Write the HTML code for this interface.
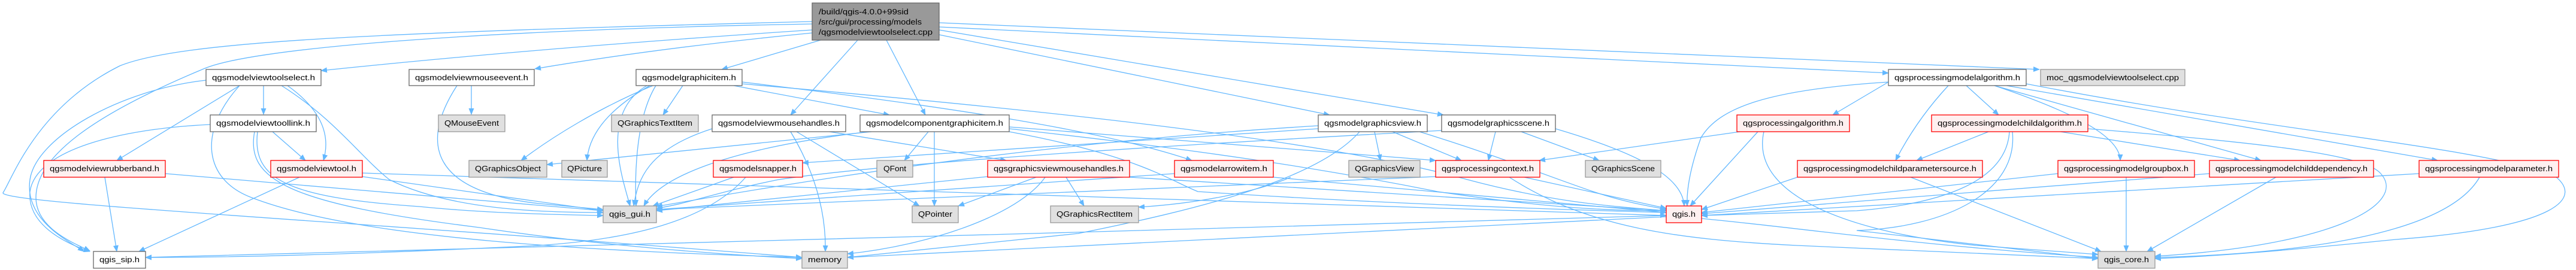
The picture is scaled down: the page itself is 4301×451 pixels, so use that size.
<!DOCTYPE html>
<html><head><meta charset="utf-8"><style>
html,body{margin:0;padding:0;background:#fff;}
svg{display:block;}
text{font-family:"Liberation Sans",sans-serif;font-size:13px;fill:#000;}
.w{fill:#fff;stroke:#666;stroke-width:1.3}
.g{fill:#e0e0e0;stroke:#999;stroke-width:1.3}
.r{fill:#fff0f0;stroke:#f00;stroke-width:1.3}
.e{fill:none;stroke:#63b8ff;stroke-width:1.3}
</style></head><body>
<svg width="4301" height="451" viewBox="0 0 4301 451" xmlns="http://www.w3.org/2000/svg">
<defs><marker id="a" markerWidth="11" markerHeight="9" refX="10" refY="4.5" orient="auto" markerUnits="userSpaceOnUse"><path d="M0,0 L11,4.5 L0,9 z" fill="#63b8ff"/></marker></defs>
<g class="e" marker-end="url(#a)">
<!-- main -->
<path d="M1356,50 Q900,80 536,118"/>
<path d="M1356,55 Q1100,80 893,115"/>
<path d="M1356,40 C800,50 420,80 340,115 C160,190 60,260 60,330 C60,380 120,405 150,419"/>
<path d="M1356,36 C600,55 300,70 200,110 C60,180 20,300 5,322 C0,340 600,370 1339,430"/>
<path d="M1370,67 L1205,116"/>
<path d="M1432,67 L1320,192"/>
<path d="M1480,67 L1545,192"/>
<path d="M1568,58 L2220,192"/>
<path d="M1568,50 L2410,192"/>
<path d="M1568,45 L3153,122"/>
<path d="M1568,38 L3405,116"/>
<!-- toolselect -->
<path d="M440,143 L440,191"/>
<path d="M400,143 L195,268"/>
<path d="M480,143 Q560,200 540,268"/>
<path d="M470,143 C560,200 600,260 650,300 C750,350 900,355 1007,355"/>
<path d="M344,134 C200,150 60,230 50,300 C40,370 120,405 140,420"/>
<path d="M400,143 C330,220 340,300 420,330 C600,400 1000,420 1339,430"/>
<!-- toollink -->
<path d="M455,220 L510,268"/>
<path d="M430,220 C420,300 480,330 700,345 C800,355 900,358 1007,360"/>
<path d="M425,220 C410,300 480,340 800,380 C1000,410 1200,425 1339,432"/>
<path d="M351,208 C200,215 60,250 50,320 C45,380 120,410 150,420"/>
<!-- rubberband -->
<path d="M175,296 L195,420"/>
<path d="M276,290 L1007,352"/>
<!-- viewtool -->
<path d="M500,296 L232,420"/>
<path d="M605,295 L1007,352"/>
<path d="M605,289 L2782,360"/>
<!-- mouseevent -->
<path d="M787,143 L787,191"/>
<path d="M763,143 C700,240 720,320 900,340 L1007,350"/>
<!-- graphicitem -->
<path d="M1140,143 L1107,192"/>
<path d="M1090,143 C1000,180 920,230 870,268"/>
<path d="M1085,143 Q985,200 980,268"/>
<path d="M1080,143 C1000,190 1040,300 1052,344"/>
<path d="M1095,143 C1060,200 1060,300 1062,344"/>
<path d="M1225,143 L1485,192"/>
<path d="M1239,137 C1600,180 1850,220 1990,268"/>
<path d="M1239,140 C1700,180 2200,230 2450,300 C2600,340 2700,345 2782,352"/>
<!-- mousehandles -->
<path d="M1189,215 C1080,250 1065,300 1058,344"/>
<path d="M1330,220 L1535,344"/>
<path d="M1320,220 Q1380,320 1378,420"/>
<path d="M1385,220 L1680,268"/>
<!-- componentgraphicitem -->
<path d="M1455,220 L913,275"/>
<path d="M1550,220 L1510,268"/>
<path d="M1560,220 L1560,344"/>
<path d="M1450,220 C1200,250 1100,300 1075,344"/>
<path d="M1685,215 C2000,250 2200,280 2400,320 C2600,350 2700,352 2782,352"/>
<path d="M1685,212 L2397,268"/>
<path d="M1685,220 C1900,260 1950,300 2000,320 C2300,340 2600,350 2782,355"/>
<!-- snapper -->
<path d="M1225,296 L1090,344"/>
<path d="M1245,296 C1180,370 1050,400 900,410 C600,425 400,430 243,430"/>
<!-- gv mousehandles -->
<path d="M1730,296 L1600,344"/>
<path d="M1780,296 L1810,344"/>
<path d="M1745,296 C1700,360 1550,410 1415,424"/>
<path d="M1649,295 L1096,352"/>
<path d="M1886,296 L2782,352"/>
<!-- arrowitem -->
<path d="M1961,290 L1096,350"/>
<path d="M2155,296 C2100,320 2000,340 1901,346"/>
<path d="M2126,296 L2782,355"/>
<!-- graphicsview -->
<path d="M2295,220 L2305,268"/>
<path d="M2325,220 L2440,268"/>
<path d="M2201,210 C1700,240 1300,310 1096,345"/>
<path d="M2370,220 C2500,260 2600,300 2660,320 C2720,340 2760,345 2782,350"/>
<path d="M2270,220 C2200,300 2000,350 1800,390 L1415,430"/>
<path d="M2201,215 L1340,272"/>
<!-- graphicsscene -->
<path d="M2497,220 L2485,268"/>
<path d="M2540,220 L2670,268"/>
<path d="M2597,215 C2750,260 2810,300 2812,344"/>
<path d="M2407,218 C2000,240 1500,270 1300,300 C1200,320 1150,340 1096,348"/>
<!-- processingcontext -->
<path d="M2545,296 L2782,348"/>
<path d="M2520,296 C2650,380 2800,400 3000,410 C3200,420 3400,428 3503,432"/>
<path d="M2397,295 L1096,350"/>
<!-- qgis.h -->
<path d="M2782,360 C2000,380 800,420 243,430"/>
<path d="M2782,362 L1415,430"/>
<path d="M2841,365 C3000,380 3200,410 3503,430"/>
<!-- processingalgorithm -->
<path d="M2905,220 L2570,268"/>
<path d="M2935,220 L2822,344"/>
<path d="M2945,220 C2920,330 3100,390 3300,410 L3503,425"/>
<!-- modelalgorithm -->
<path d="M3153,137 L3060,192"/>
<path d="M3153,137 C2950,150 2870,180 2840,230 Q2815,300 2817,344"/>
<path d="M3283,143 L3337,192"/>
<path d="M3253,143 Q3200,200 3165,268"/>
<path d="M3330,143 C3470,190 3540,230 3540,268"/>
<path d="M3330,143 L3775,268"/>
<path d="M3350,143 L4070,268"/>
<path d="M3383,140 C3800,220 4100,240 4260,290 C4320,330 4270,380 4000,400 C3800,420 3700,428 3598,432"/>
<!-- childalgorithm -->
<path d="M3320,220 L3200,268"/>
<path d="M3440,220 L3740,268"/>
<path d="M3486,215 C3800,240 3950,260 3975,290 C4020,340 3900,410 3598,428"/>
<path d="M3355,220 C3350,300 3250,340 3100,352 L2841,360"/>
<path d="M3360,220 C3370,320 3250,380 3100,385 L3503,432"/>
<!-- lower row to core/qgis -->
<path d="M3190,296 L3508,420"/>
<path d="M3001,296 L2841,350"/>
<path d="M3550,296 L3550,420"/>
<path d="M3436,290 L2841,355"/>
<path d="M3800,296 L3585,420"/>
<path d="M3689,290 L2841,357"/>
<path d="M4140,296 C4080,400 3800,425 3598,430"/>
<path d="M4039,290 L2841,360"/>
</g>
<!-- nodes -->
<rect x="1356" y="5" width="212" height="62" fill="#999" stroke="#666" stroke-width="1.3"/>
<text x="1367" y="24" textLength="150" lengthAdjust="spacingAndGlyphs">/build/qgis-4.0.0+99sid</text>
<text x="1367" y="41" textLength="172" lengthAdjust="spacingAndGlyphs">/src/gui/processing/models</text>
<text x="1367" y="58" textLength="190" lengthAdjust="spacingAndGlyphs">/qgsmodelviewtoolselect.cpp</text>
<g id="n"></g>
<rect class="w" x="344" y="116" width="192" height="27"/><text x="354" y="134" textLength="172" lengthAdjust="spacingAndGlyphs">qgsmodelviewtoolselect.h</text>
<rect class="w" x="683" y="116" width="209" height="27"/><text x="693" y="134" textLength="189" lengthAdjust="spacingAndGlyphs">qgsmodelviewmouseevent.h</text>
<rect class="w" x="1062" y="116" width="177" height="27"/><text x="1072" y="134" textLength="157" lengthAdjust="spacingAndGlyphs">qgsmodelgraphicitem.h</text>
<rect class="w" x="3153" y="116" width="230" height="27"/><text x="3163" y="134" textLength="210" lengthAdjust="spacingAndGlyphs">qgsprocessingmodelalgorithm.h</text>
<rect class="g" x="3407" y="116" width="241" height="27"/><text x="3417" y="134" textLength="221" lengthAdjust="spacingAndGlyphs">moc_qgsmodelviewtoolselect.cpp</text>

<rect class="w" x="351" y="192" width="177" height="28"/><text x="361" y="210" textLength="157" lengthAdjust="spacingAndGlyphs">qgsmodelviewtoollink.h</text>
<rect class="g" x="732" y="192" width="111" height="28"/><text x="742" y="210" textLength="91" lengthAdjust="spacingAndGlyphs">QMouseEvent</text>
<rect class="g" x="1021" y="192" width="145" height="28"/><text x="1031" y="210" textLength="125" lengthAdjust="spacingAndGlyphs">QGraphicsTextItem</text>
<rect class="w" x="1189" y="192" width="223" height="28"/><text x="1199" y="210" textLength="203" lengthAdjust="spacingAndGlyphs">qgsmodelviewmousehandles.h</text>
<rect class="w" x="1436" y="192" width="249" height="28"/><text x="1446" y="210" textLength="229" lengthAdjust="spacingAndGlyphs">qgsmodelcomponentgraphicitem.h</text>
<rect class="w" x="2201" y="192" width="182" height="28"/><text x="2211" y="210" textLength="162" lengthAdjust="spacingAndGlyphs">qgsmodelgraphicsview.h</text>
<rect class="w" x="2407" y="192" width="190" height="28"/><text x="2417" y="210" textLength="170" lengthAdjust="spacingAndGlyphs">qgsmodelgraphicsscene.h</text>
<rect class="r" x="2900" y="192" width="188" height="28"/><text x="2910" y="210" textLength="168" lengthAdjust="spacingAndGlyphs">qgsprocessingalgorithm.h</text>
<rect class="r" x="3225" y="192" width="261" height="28"/><text x="3235" y="210" textLength="241" lengthAdjust="spacingAndGlyphs">qgsprocessingmodelchildalgorithm.h</text>

<rect class="r" x="73" y="268" width="203" height="28"/><text x="83" y="286" textLength="183" lengthAdjust="spacingAndGlyphs">qgsmodelviewrubberband.h</text>
<rect class="r" x="452" y="268" width="153" height="28"/><text x="462" y="286" textLength="133" lengthAdjust="spacingAndGlyphs">qgsmodelviewtool.h</text>
<rect class="g" x="783" y="268" width="130" height="28"/><text x="793" y="286" textLength="110" lengthAdjust="spacingAndGlyphs">QGraphicsObject</text>
<rect class="g" x="938" y="268" width="76" height="28"/><text x="947" y="286" textLength="58" lengthAdjust="spacingAndGlyphs">QPicture</text>
<rect class="r" x="1191" y="268" width="149" height="28"/><text x="1201" y="286" textLength="129" lengthAdjust="spacingAndGlyphs">qgsmodelsnapper.h</text>
<rect class="g" x="1464" y="268" width="60" height="28"/><text x="1475" y="286" textLength="38" lengthAdjust="spacingAndGlyphs">QFont</text>
<rect class="r" x="1649" y="268" width="237" height="28"/><text x="1659" y="286" textLength="217" lengthAdjust="spacingAndGlyphs">qgsgraphicsviewmousehandles.h</text>
<rect class="r" x="1961" y="268" width="165" height="28"/><text x="1971" y="286" textLength="145" lengthAdjust="spacingAndGlyphs">qgsmodelarrowitem.h</text>
<rect class="g" x="2252" y="268" width="119" height="28"/><text x="2262" y="286" textLength="99" lengthAdjust="spacingAndGlyphs">QGraphicsView</text>
<rect class="r" x="2397" y="268" width="174" height="28"/><text x="2407" y="286" textLength="154" lengthAdjust="spacingAndGlyphs">qgsprocessingcontext.h</text>
<rect class="g" x="2647" y="268" width="126" height="28"/><text x="2657" y="286" textLength="106" lengthAdjust="spacingAndGlyphs">QGraphicsScene</text>
<rect class="r" x="3001" y="268" width="309" height="28"/><text x="3011" y="286" textLength="289" lengthAdjust="spacingAndGlyphs">qgsprocessingmodelchildparametersource.h</text>
<rect class="r" x="3436" y="268" width="228" height="28"/><text x="3446" y="286" textLength="208" lengthAdjust="spacingAndGlyphs">qgsprocessingmodelgroupbox.h</text>
<rect class="r" x="3689" y="268" width="274" height="28"/><text x="3699" y="286" textLength="254" lengthAdjust="spacingAndGlyphs">qgsprocessingmodelchilddependency.h</text>
<rect class="r" x="4039" y="268" width="233" height="28"/><text x="4049" y="286" textLength="213" lengthAdjust="spacingAndGlyphs">qgsprocessingmodelparameter.h</text>

<rect class="g" x="1007" y="344" width="89" height="28"/><text x="1017" y="362" textLength="69" lengthAdjust="spacingAndGlyphs">qgis_gui.h</text>
<rect class="g" x="1523" y="344" width="77" height="28"/><text x="1533" y="362" textLength="57" lengthAdjust="spacingAndGlyphs">QPointer</text>
<rect class="g" x="1754" y="344" width="147" height="28"/><text x="1764" y="362" textLength="127" lengthAdjust="spacingAndGlyphs">QGraphicsRectItem</text>
<rect class="r" x="2782" y="344" width="59" height="28"/><text x="2792" y="362" textLength="39" lengthAdjust="spacingAndGlyphs">qgis.h</text>

<rect class="w" x="156" y="420" width="87" height="28"/><text x="166" y="438" textLength="67" lengthAdjust="spacingAndGlyphs">qgis_sip.h</text>
<rect class="g" x="1339" y="420" width="76" height="28"/><text x="1349" y="438" textLength="56" lengthAdjust="spacingAndGlyphs">memory</text>
<rect class="g" x="3503" y="420" width="95" height="28"/><text x="3513" y="438" textLength="75" lengthAdjust="spacingAndGlyphs">qgis_core.h</text>
</svg>
</body></html>
